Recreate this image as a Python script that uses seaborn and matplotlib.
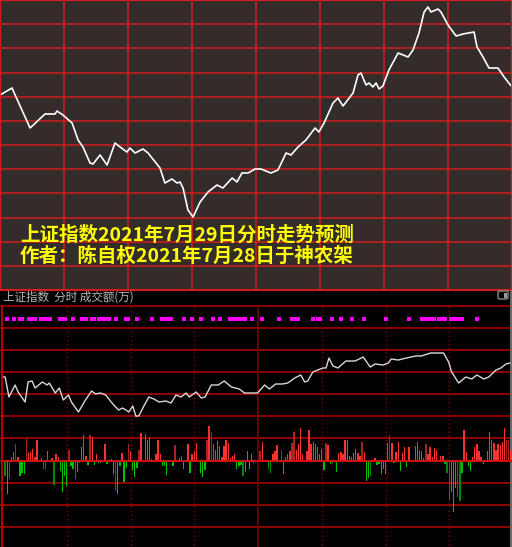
import numpy as np
import matplotlib
matplotlib.use("Agg")
import matplotlib.pyplot as plt
from matplotlib.patches import FancyBboxPatch, Rectangle
import seaborn as sns

# forecast curve drawn in the upper panel (minute of session, level)
fc_min = [0, 5.6, 14.1, 21.1, 25.8, 26.7, 29.5, 33.8, 36.6, 38.9, 42.2, 43.6, 46.9, 50.2,
          53.9, 56.3, 59.5, 60.9, 63.3, 67.0, 69.4, 75, 77.3, 80.6, 83, 84.4, 85.8, 88.1,
          90.5, 93.8, 97.5, 101.7, 104.5, 108.8, 111.1, 113.4, 116.3, 119.5, 122.3, 127,
          130.3, 134.1, 136.4, 139.7, 143.4, 147.7, 149.5, 151.9, 156.1, 158.4, 160.8,
          165.5, 167.8, 169.2, 171.6, 173, 174.8, 176.3, 177.7, 179.5, 182.3, 186.6, 191.3,
          193.6, 196.4, 198.8, 200.6, 202, 205.3, 206.7, 210, 213.8, 217, 222.2, 223.6,
          226.4, 229.2, 233.4, 236.3, 240]
fc_val = [195, 202, 162, 176, 176, 179, 175, 167, 150, 143, 127, 126, 135, 125,
          147, 143, 138, 142, 137, 141, 137, 122, 107, 111, 107, 108, 102, 80,
          73, 88, 98, 105, 102, 112, 108, 117, 117, 121, 121, 117,
          120, 137, 135, 143, 150, 162, 158, 167, 187, 192, 184,
          197, 215, 217, 205, 207, 203, 207, 201, 204, 220, 237, 233,
          240, 257, 278, 283, 278, 281, 278, 265, 254, 256, 258, 243,
          233, 222, 222, 213, 203]

# actual intraday line in the lower panel
px_min = [0, 1, 2.8, 5.7, 7.1, 10.4, 11.8, 13.7, 15.1, 18.5, 20.8, 21.8, 24.6, 26.5, 28.4,
          30.8, 32.2, 35.5, 38.8, 41.7, 43.6, 45.9, 48.3, 52.1, 54.4, 56.3, 59.2, 61.1,
          62.5, 63.9, 65.8, 68.6, 71, 73.4, 76.7, 79.1, 81.4, 83.8, 86.2, 87.6, 90.9, 93.3,
          95.1, 98, 101.3, 104.1, 107.5, 111.2, 113.6, 116, 118.3, 119.8, 123.1, 125.4,
          128.3, 131.6, 134, 137.3, 140.1, 142, 143.4, 145.8, 150.5, 152, 153.4, 155.3,
          157.6, 161.4, 165.7, 169.5, 172.8, 175.1, 178.9, 181.3, 182.7, 186, 189.8, 194.1,
          196.9, 201.2, 204, 207.3, 209.7, 211.1, 214.4, 217.8, 220.6, 223, 226.3, 228.6,
          232, 234.3, 236.7, 238.6]
px_val = [84, 84, 64, 76, 69, 59, 79, 80, 73, 79, 76, 78, 68, 73, 61,
          66, 59, 49, 61, 70, 67, 68, 66, 56, 51, 53, 49, 55,
          45, 45, 53, 64, 62, 59, 60, 58, 66, 64, 68, 64, 69, 63,
          64, 76, 76, 80, 74, 72, 68, 68, 68, 68, 76, 72,
          77, 77, 78, 83, 86, 79, 80, 89, 93, 93, 103, 95,
          93, 100, 100, 104, 94, 97, 96, 98, 102, 101, 103, 105,
          105, 108, 108, 108, 99, 89, 78, 84, 82, 86, 82, 84,
          91, 93, 97, 98]

# turnover difference bars
up_min = [4, 5, 6, 7, 11, 12, 13, 14, 15, 16, 18, 21, 23, 25, 26, 31, 37, 38, 39, 41, 42,
          44, 48, 51, 56, 59, 60, 64, 65, 67, 68, 69, 70, 72, 73, 74, 81, 83, 84, 87, 89,
          90, 91, 96, 97, 98, 99, 100, 101, 102, 103, 104, 105, 106, 107, 108, 109, 115,
          117, 121, 122, 127, 128, 129, 131, 133, 134, 135, 136, 137, 138, 139, 140, 141,
          143, 144, 145, 146, 147, 148, 149, 150, 152, 153, 158, 159, 160, 161, 162, 163,
          164, 165, 166, 167, 168, 169, 170, 175, 181, 182, 183, 185, 186, 188, 189, 191,
          194, 195, 196, 197, 198, 199, 200, 201, 202, 203, 204, 206, 207, 217, 218, 221,
          222, 223, 224, 225, 228, 229, 230, 231, 232, 233, 234, 235, 236, 237, 238, 239]
up_val = [3.7, 9, 17.3, 3.7, 22, 8, 9, 12, 3.7, 21, 2.7, 10, 2.7, 7.3, 3.7, 11.3, 14, 26,
          5.3, 26, 23.7, 7.3, 16.7, 2, 8.3, 17.3, 10.3, 11.3, 28, 26.7, 21.3, 23.7, 2, 6.7,
          21.3, 7.3, 15.7, 2.7, 5.3, 17.3, 7.3, 10.3, 18, 21.3, 35.3, 29.3, 17.3, 11.3, 20,
          14.7, 3.7, 14.7, 21.3, 18.3, 2.7, 5.3, 6.7, 10.3, 6.7, 10.3, 19.3, 6.7, 10, 15.7,
          11.3, 3.7, 6.7, 10.3, 18.3, 28.7, 11.3, 16.7, 33.3, 6.7, 10.3, 31.3, 16.7, 19.3,
          16.7, 14, 6.7, 12, 18.3, 15.7, 8, 9.3, 6.7, 20.7, 20.7, 5.3, 4, 8, 12, 8, 5.3,
          19.3, 9.3, 2.7, 18.3, 26.3, 18.3, 9.3, 19.3, 8, 14, 14, 14.7, 19.3, 11.3, 10.3,
          2.7, 17.3, 6.7, 14, 4, 13.3, 11.3, 5.3, 4.7, 31.3, 8.7, 4, 14, 16.7, 10.3, 4,
          10.3, 29.3, 20.7, 18.3, 11.3, 16.7, 15.7, 19.3, 33.3, 20.7, 20.7, 11.3]
up_dark = [6, 11, 31, 41, 59, 64, 81, 96, 98, 121, 131, 136, 137, 152, 169, 182, 199, 237, 238]

dn_min = [1, 2, 3, 8, 9, 10, 19, 20, 24, 27, 28, 29, 30, 32, 33, 34, 35, 36, 40, 43, 45, 46,
          47, 49, 52, 53, 54, 55, 57, 58, 61, 62, 63, 71, 75, 76, 77, 78, 80, 85, 88, 93,
          94, 95, 110, 111, 112, 113, 114, 116, 118, 123, 125, 126, 132, 151, 154, 155,
          156, 157, 171, 172, 173, 176, 177, 178, 179, 180, 184, 187, 190, 208, 209, 210,
          211, 212, 213, 214, 215, 216, 219, 220, 226, 227]
dn_val = [-15.3, -32.7, -17.3, -15.3, -12, -13.3, -8, -8, -23.7, -10.3, -31, -14.7, -24.7,
          -5.3, -8, -18, -11.3, -2.3, -4.3, -4.3, -2.3, -2.3, -1.3, -3, -13, -30, -32.7,
          -5.3, -20.7, -7.3, -9.3, -16, -7.3, -1.3, -4.7, -4.7, -14, -1.3, -4.7, -8, -12,
          -12, -16, -9.3, -8, -5.3, -4.3, -15.3, -11.3, -8, -2, -1.3, -8, -12, -13.3, -9.3,
          -2.7, -2, -1.3, -11.3, -20, -17.3, -14.7, -4, -2.7, -12.7, -8, -12.7, -2, -10,
          -6, -2.7, -12, -38.7, -31.3, -51.3, -26.7, -36, -40.3, -12, -5.3, -10, -2.7, -1.3]
dn_dark = [1, 3, 19, 20, 24, 34, 53, 113, 125, 126, 173, 209, 210, 214, 215]

# magenta signal marks
dot_min = [2, 5, 8, 9, 12, 14, 15, 18, 19, 20, 21, 22, 27, 28, 29, 33, 37, 39, 42, 43, 45, 46,
           48, 49, 50, 53, 58, 59, 63, 70, 75, 76, 77, 78, 79, 85, 89, 93, 99, 102, 107, 108,
           109, 110, 111, 112, 114, 117, 122, 130, 136, 138, 139, 146, 148, 149, 155, 159,
           164, 170, 180, 191, 197, 199, 200, 201, 202, 203, 205, 207, 208, 211, 212, 214,
           215, 216, 223]

title1 = "上证指数2021年7月29日分时走势预测"
title2 = "作者：陈自权2021年7月28日于神农架"
header = "上证指数  分时 成交额(万)"

sns.set_theme(style="dark")
plt.rcParams['font.family'] = ['Noto Sans CJK SC', 'DejaVu Sans']

W, H = 512, 547
fig = plt.figure(figsize=(W / 100, H / 100), dpi=100, facecolor='black')


def box(x0, y0, x1, y1):
    return [x0 / W, 1 - y1 / H, (x1 - x0) / W, (y1 - y0) / H]


red = '#d41c1c'

# upper panel
ax = fig.add_axes(box(0, 0, 512, 290))
ax.set_facecolor('#342c2b')
sns.lineplot(x=fc_min, y=fc_val, ax=ax, color='white', lw=1.2)
ax.set_xlim(0, 240)
ax.set_ylim(0, 290)
ax.set_xticks(np.arange(0, 241, 30))
ax.set_yticks(np.linspace(0, 290, 13))
ax.set_xticklabels([])
ax.set_yticklabels([])
ax.tick_params(length=0)
ax.grid(True, color=red, lw=1.1)
for s in ax.spines.values():
    s.set_color(red)
    s.set_linewidth(1.5)
ax.set_xlabel('')
ax.set_ylabel('')
ax.text(20 / 512, 1 - 235 / 290, title1, transform=ax.transAxes, color='#ffff00',
        fontsize=14, fontweight='bold', va='center', ha='left')
ax.text(20 / 512, 1 - 256 / 290, title2, transform=ax.transAxes, color='#ffff00',
        fontsize=14, fontweight='bold', va='center', ha='left')

# lower panel background and frame
bg = fig.add_axes(box(0, 290, 512, 547))
bg.set_facecolor('black')
bg.set_xlim(0, 512)
bg.set_ylim(547, 290)
bg.axis('off')
for y in 305.6 + 22.14 * np.arange(11):
    bg.axhline(y, color='#9e0000', lw=1.3)
for k in range(1, 8):
    xv = 3 + 63.75 * k
    if k == 4:
        bg.vlines(xv, 306, 547, color='#700000', lw=1.3)
    else:
        bg.vlines(xv, 306, 547, color='#8a0000', lw=1, linestyles=(0, (1, 2)))
bg.vlines(2, 306, 547, color='#b00000', lw=1.5)
bg.vlines(511, 290, 547, color='#6a6a6a', lw=1.5)
bg.text(3, 297, header, color='#b8b8b8', fontsize=8.3, va='center', ha='left')
bg.add_patch(FancyBboxPatch((498, 291), 10, 8, boxstyle='round,pad=0,rounding_size=1.5',
                            ec='#8a8a8a', fc='none', lw=1))
bg.add_patch(Rectangle((504, 292.5), 2.5, 5, fc='#9a9a9a', ec='none'))

# price line and signal marks
axp = fig.add_axes(box(3, 306, 513, 461))
axp.set_facecolor('none')
sns.lineplot(x=px_min, y=px_val, ax=axp, color='#d8d8d8', lw=1)
axp.scatter(dot_min, [0.916] * len(dot_min), transform=axp.get_xaxis_transform(),
            marker='s', s=6, color='#ff00ff', linewidths=0)
axp.set_xlim(0, 240)
axp.set_ylim(0, 155)
axp.axis('off')

# turnover bars
axv = fig.add_axes(box(3, 416, 513, 547))
axv.set_facecolor('none')
up_col = ['#a82420' if m in up_dark else '#ff3030' for m in up_min]
dn_col = ['#008a00' if m in dn_dark else '#00c000' for m in dn_min]
axv.bar(up_min, up_val, width=0.7, color=up_col, edgecolor='none', linewidth=0)
axv.bar(dn_min, dn_val, width=0.7, color=dn_col, edgecolor='none', linewidth=0)
axv.axhline(0, color='#d01010', lw=1.5)
axv.set_xlim(0, 240)
axv.set_ylim(-86, 45)
axv.axis('off')

fig.savefig('out.png', dpi=100, facecolor='black')
